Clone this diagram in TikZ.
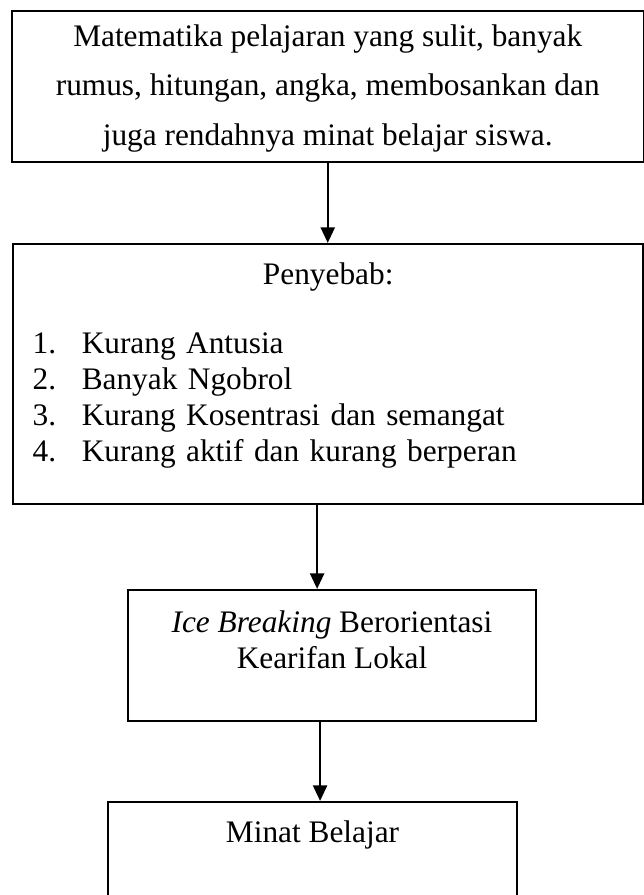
\documentclass[tikz,border=0pt]{standalone}
\usepackage{fontspec}
\setmainfont{Liberation Serif}
\usetikzlibrary{arrows.meta, positioning}

\tikzset{
  box/.style={draw, line width=0.8pt, inner sep=0pt},
  txt/.style={inner sep=0pt, align=center, font=\fontsize{12}{13.8}\selectfont},
  arr/.style={-{Triangle[length=6pt, width=5.4pt]}, line width=0.9pt}
}

\begin{document}
\begin{tikzpicture}[x=0.383pt, y=-0.383pt]
\useasboundingbox (0,0) rectangle (643,895);

% kotak
\node[box, minimum width=241.9pt, minimum height=57.8pt] (problem) at (327.75,86.5) {};
\node[box, minimum width=241.5pt, minimum height=99.6pt] (cause) at (328.25,374) {};
\node[box, minimum width=156.3pt, minimum height=50.2pt] (ice) at (332,655.5) {};
\node[box, minimum width=156.6pt, minimum height=50.2pt] (minat) at (312.5,867.5) {};

% teks
\node[txt, font=\fontsize{12}{18.8}\selectfont, below=5.6pt of problem.north] (problemtext)
  {Matematika pelajaran yang sulit, banyak\\ rumus, hitungan, angka, membosankan dan\\ juga rendahnya minat belajar siswa.};
\node[txt, align=left, text width=226.4pt, below=7.5pt of cause.north] (causetext)
  {\makebox[\linewidth]{Penyebab:}\\[12.6pt]
   \makebox[18.8pt][l]{1.}Kurang Antusia\\
   \makebox[18.8pt][l]{2.}Banyak Ngobrol\\
   \makebox[18.8pt][l]{3.}Kurang Kosentrasi dan semangat\\
   \makebox[18.8pt][l]{4.}Kurang aktif dan kurang berperan};
\node[txt, below=8.3pt of ice.north] (icetext) {\textit{Ice Breaking} Berorientasi\\ Kearifan Lokal};
\node[txt, below=7.5pt of minat.north] (minattext) {Minat Belajar};

% panah
\draw[arr] (problem.south) -- (problem.south |- cause.north);
\draw[arr] ([xshift=-5.7pt]ice.north |- cause.south) -- ([xshift=-5.7pt]ice.north);
\draw[arr] ([xshift=2.9pt]minat.north |- ice.south) -- ([xshift=2.9pt]minat.north);
\end{tikzpicture}
\end{document}
